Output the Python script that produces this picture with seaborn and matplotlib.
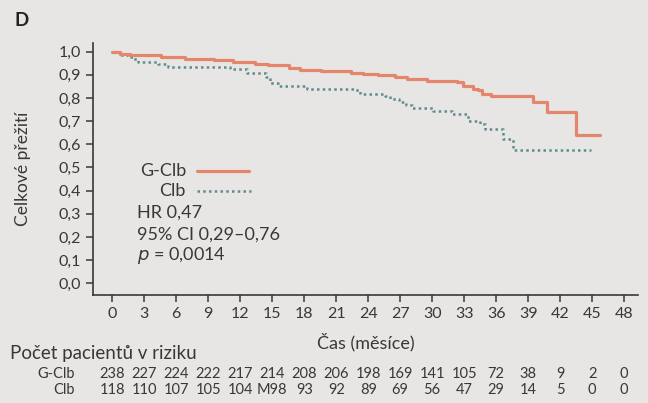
import matplotlib
matplotlib.use("Agg")
import matplotlib.pyplot as plt
import matplotlib.transforms as mtransforms
import numpy as np
import pandas as pd
import seaborn as sns

# Kaplan-Meier křivky (měsíce, přežití)
cas_gclb = [0, 0.7, 1.7, 4.6, 6.8, 9.5, 11.3, 13.4, 14.6, 16.6, 17.6, 19.6, 22.4,
            23.5, 24.9, 26.5, 27.6, 29.5, 32.3, 32.9, 33.8, 34.3, 34.7, 35.5,
            39.5, 40.8, 43.5, 45.7]
prez_gclb = [1.0, 0.989, 0.983, 0.976, 0.970, 0.964, 0.953, 0.946, 0.940, 0.928,
             0.921, 0.915, 0.909, 0.904, 0.898, 0.891, 0.880, 0.874, 0.867, 0.853,
             0.838, 0.833, 0.818, 0.810, 0.783, 0.741, 0.638, 0.638]

cas_clb = [0, 0.7, 1.5, 1.9, 2.4, 4.3, 5.2, 11.0, 12.6, 14.4, 14.8, 15.5, 18.3,
           22.7, 23.2, 25.6, 26.0, 26.9, 27.5, 28.1, 30.1, 31.9, 33.4, 34.5,
           35.0, 36.6, 37.6, 44.9]
prez_clb = [1.0, 0.984, 0.977, 0.967, 0.954, 0.947, 0.935, 0.925, 0.907, 0.892,
            0.866, 0.853, 0.840, 0.835, 0.819, 0.809, 0.796, 0.784, 0.770, 0.756,
            0.744, 0.730, 0.701, 0.687, 0.668, 0.622, 0.577, 0.577]

x_ticks = list(range(0, 49, 3))
y_ticks = [i / 10 for i in range(11)]
y_labels = [f"{v:.1f}".replace(".", ",") for v in y_ticks]

riziko_gclb = ["238", "227", "224", "222", "217", "214", "208", "206", "198",
               "169", "141", "105", "72", "38", "9", "2", "0"]
riziko_clb = ["118", "110", "107", "105", "104", "M98", "93", "92", "89",
              "69", "56", "47", "29", "14", "5", "0", "0"]

barva_gclb = "#E4866B"
barva_clb = "#5B8D8D"
text_barva = "#383838"
pozadi = "#e8e6e4"
tecky = (0, (1, 1.3))

sns.set_theme(style="white")
plt.rcParams["font.family"] = ["Lato", "DejaVu Sans"]
plt.rcParams["text.color"] = text_barva
plt.rcParams["axes.labelcolor"] = text_barva
plt.rcParams["xtick.color"] = text_barva
plt.rcParams["ytick.color"] = text_barva

fig = plt.figure(figsize=(6.48, 4.03), dpi=100, facecolor=pozadi)
ax = fig.add_axes([0.144, 0.268, 0.8405, 0.6265])
ax.set_facecolor(pozadi)

df_g = pd.DataFrame({"cas": cas_gclb, "prezivani": prez_gclb})
df_c = pd.DataFrame({"cas": cas_clb, "prezivani": prez_clb})

sns.lineplot(data=df_c, x="cas", y="prezivani", ax=ax, color=barva_clb,
             drawstyle="steps-post", estimator=None, sort=False,
             linewidth=1.8, linestyle=tecky)
sns.lineplot(data=df_g, x="cas", y="prezivani", ax=ax, color=barva_gclb,
             drawstyle="steps-post", estimator=None, sort=False,
             linewidth=2.3)

ax.set_xlim(-1.78, 49.3)
ax.set_ylim(-0.05, 1.039)
ax.set_xticks(x_ticks)
ax.set_yticks(y_ticks)
ax.set_yticklabels(y_labels)
ax.tick_params(axis="both", labelsize=11.5, length=5, width=1.1,
               direction="out", pad=4, bottom=True, left=True)
for s in ["top", "right"]:
    ax.spines[s].set_visible(False)
for s in ["left", "bottom"]:
    ax.spines[s].set_color(text_barva)
    ax.spines[s].set_linewidth(1.2)

ax.set_xlabel("Čas (měsíce)", fontsize=13, labelpad=8)
ax.set_ylabel("Celkové přežití", fontsize=12.5, labelpad=20)

# legenda a statistika
fs = 13
fig.text(186 / 648, 1 - 171 / 403, "G-Clb", ha="right", va="center", fontsize=fs)
fig.text(186 / 648, 1 - 191 / 403, "Clb", ha="right", va="center", fontsize=fs)
fig.add_artist(plt.Line2D([197 / 648, 249 / 648], [1 - 171 / 403] * 2,
                          color=barva_gclb, lw=2.3))
fig.add_artist(plt.Line2D([197 / 648, 251 / 648], [1 - 191 / 403] * 2,
                          color=barva_clb, lw=1.8, linestyle=tecky))
fig.text(137 / 648, 1 - 213 / 403, "HR 0,47", ha="left", va="center", fontsize=fs)
fig.text(137 / 648, 1 - 235 / 403, "95% CI 0,29–0,76", ha="left", va="center", fontsize=fs)
fig.text(137 / 648, 1 - 256 / 403, "$p$ = 0,0014", ha="left", va="center", fontsize=fs)

fig.text(14 / 648, 1 - 20 / 403, "D", ha="left", va="center", fontsize=13.5,
         fontweight="bold", color="#222222")

# tabulka počtu pacientů v riziku
fig.text(10 / 648, 1 - 354 / 403, "Počet pacientů v riziku", ha="left",
         va="center", fontsize=13.5)
trans = mtransforms.blended_transform_factory(ax.transData, fig.transFigure)
fig.text(75 / 648, 1 - 374 / 403, "G-Clb", ha="right", va="center", fontsize=10.5)
fig.text(75 / 648, 1 - 390 / 403, "Clb", ha="right", va="center", fontsize=10.5)
for x, a, b in zip(x_ticks, riziko_gclb, riziko_clb):
    ax.text(x, 1 - 374 / 403, a, transform=trans, ha="center", va="center",
            fontsize=10.5, clip_on=False)
    ax.text(x, 1 - 390 / 403, b, transform=trans, ha="center", va="center",
            fontsize=10.5, clip_on=False)

fig.savefig("out.png", dpi=100, facecolor=pozadi)
